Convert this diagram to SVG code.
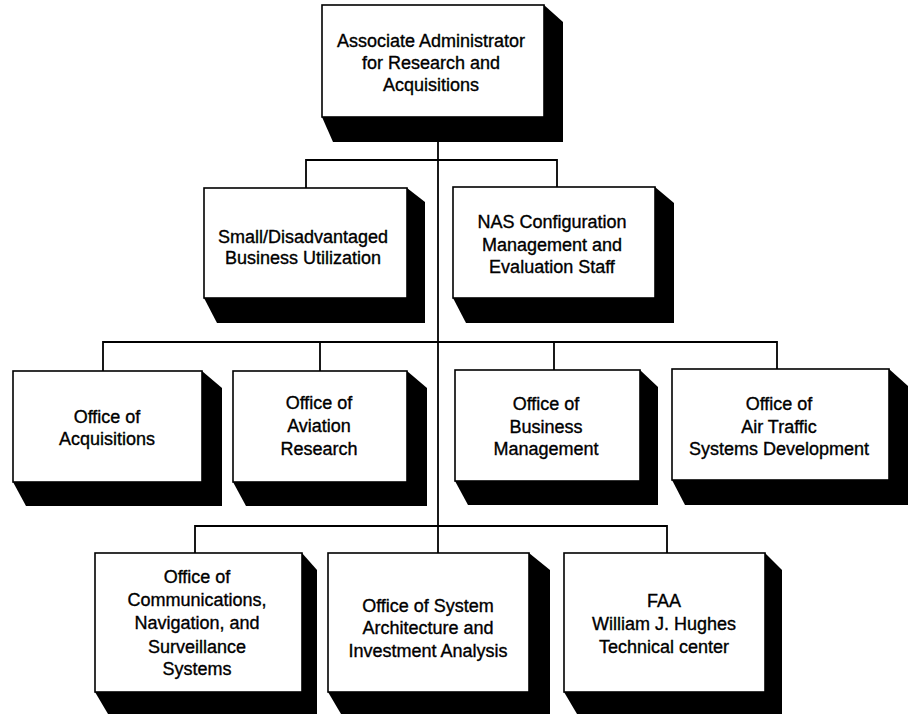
<svg xmlns="http://www.w3.org/2000/svg" width="909" height="714" viewBox="0 0 909 714">
<style>
.box{fill:#fff;stroke:#000;stroke-width:1.6}
.sh{fill:#000}
.t{font-family:"Liberation Sans",Arial,sans-serif;font-size:18px;fill:#000;text-anchor:middle;stroke:#000;stroke-width:0.35}
.c{fill:none;stroke:#000;stroke-width:1.8}
</style>
<rect width="909" height="714" fill="#fff"/>
<g id="connectors">
<line class="c" x1="438" y1="140" x2="438" y2="553"/>
<polyline class="c" points="306,188 306,160 557,160 557,188"/>
<polyline class="c" points="103,371 103,342 777,342 777,370"/>
<line class="c" x1="320" y1="342" x2="320" y2="371"/>
<line class="c" x1="554" y1="342" x2="554" y2="370"/>
<polyline class="c" points="195,553 195,526 667,526 667,553"/>
</g>
<g id="n-aa">
<polygon class="sh" points="544,5 563,22 563,142 333,142 322,117"/>
<rect class="box" x="322" y="5" width="222" height="112"/>
<text class="t" x="431" y="47">Associate Administrator</text>
<text class="t" x="431" y="69">for Research and</text>
<text class="t" x="431" y="91">Acquisitions</text>
</g>
<g id="n-sdbu">
<polygon class="sh" points="407,188 425,202 425,323 217,323 204,298"/>
<rect class="box" x="204" y="188" width="203" height="110"/>
<text class="t" x="303" y="243">Small/Disadvantaged</text>
<text class="t" x="303" y="264">Business Utilization</text>
</g>
<g id="n-nas">
<polygon class="sh" points="655,187 674,203 674,323 466,323 453,298"/>
<rect class="box" x="453" y="187" width="202" height="111"/>
<text class="t" x="552" y="228">NAS Configuration</text>
<text class="t" x="552" y="251">Management and</text>
<text class="t" x="552" y="273">Evaluation Staff</text>
</g>
<g id="n-acq">
<polygon class="sh" points="202,371 222,388 222,506 26,506 13,482"/>
<rect class="box" x="13" y="371" width="189" height="111"/>
<text class="t" x="107" y="423">Office of</text>
<text class="t" x="107" y="445">Acquisitions</text>
</g>
<g id="n-avr">
<polygon class="sh" points="407,371 427,388 427,506 246,506 233,482"/>
<rect class="box" x="233" y="371" width="174" height="111"/>
<text class="t" x="319" y="409">Office of</text>
<text class="t" x="319" y="432">Aviation</text>
<text class="t" x="319" y="455">Research</text>
</g>
<g id="n-bm">
<polygon class="sh" points="640,370 658,387 658,505 468,505 455,481"/>
<rect class="box" x="455" y="370" width="185" height="111"/>
<text class="t" x="546" y="410">Office of</text>
<text class="t" x="546" y="433">Business</text>
<text class="t" x="546" y="455">Management</text>
</g>
<g id="n-atsd">
<polygon class="sh" points="889,369 908,386 908,505 685,505 672,480"/>
<rect class="box" x="672" y="369" width="217" height="111"/>
<text class="t" x="779" y="410">Office of</text>
<text class="t" x="779" y="433">Air Traffic</text>
<text class="t" x="779" y="455">Systems Development</text>
</g>
<g id="n-cns">
<polygon class="sh" points="302,553 317,570 317,714 108,714 95,692"/>
<rect class="box" x="95" y="553" width="207" height="139"/>
<text class="t" x="197" y="583">Office of</text>
<text class="t" x="197" y="606">Communications,</text>
<text class="t" x="197" y="629">Navigation, and</text>
<text class="t" x="197" y="653">Surveillance</text>
<text class="t" x="197" y="675">Systems</text>
</g>
<g id="n-sys">
<polygon class="sh" points="529,553 550,570 550,714 341,714 328,692"/>
<rect class="box" x="328" y="553" width="201" height="139"/>
<text class="t" x="428" y="612">Office of System</text>
<text class="t" x="428" y="634">Architecture and</text>
<text class="t" x="428" y="657">Investment Analysis</text>
</g>
<g id="n-faa">
<polygon class="sh" points="765,553 782,570 782,714 577,714 564,692"/>
<rect class="box" x="564" y="553" width="201" height="139"/>
<text class="t" x="664" y="607">FAA</text>
<text class="t" x="664" y="630">William J. Hughes</text>
<text class="t" x="664" y="653">Technical center</text>
</g>
</svg>
